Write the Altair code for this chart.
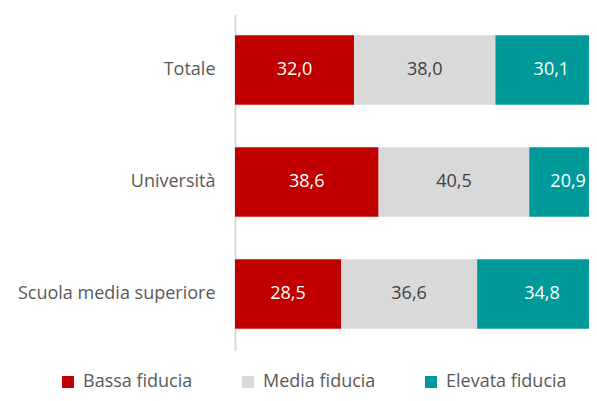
import altair as alt
import pandas as pd

categories = ["Totale", "Università", "Scuola media superiore"]
series = ["Bassa fiducia", "Media fiducia", "Elevata fiducia"]
bassa = [32.0, 38.6, 28.5]
media = [38.0, 40.5, 36.6]
elevata = [30.1, 20.9, 34.8]
colors = ["#C00000", "#D9D9D9", "#009999"]

rows = []
for i, c in enumerate(categories):
    for j, (s, vals) in enumerate(zip(series, [bassa, media, elevata])):
        v = vals[i]
        rows.append({"cat": c, "serie": s, "ord": j, "value": v,
                     "label": f"{v:.1f}".replace(".", ",")})
df = pd.DataFrame(rows)

FONT = "Open Sans"

base = alt.Chart(df).transform_stack(
    stack="value", groupby=["cat"], sort=[alt.SortField("ord")], as_=["x0", "x1"]
).transform_calculate(mid="(datum.x0 + datum.x1) / 2")

xscale = alt.Scale(domain=[0, 100], range=[0, 372])
yscale = alt.Scale(paddingInner=0.38, paddingOuter=0.19)

bars = base.mark_bar(clip=True).encode(
    x=alt.X("x0:Q", scale=xscale, axis=None),
    x2="x1:Q",
    y=alt.Y("cat:N", sort=categories, scale=yscale,
            axis=alt.Axis(title=None, ticks=False, domainColor="#D9D9D9", domainWidth=2,
                          labelPadding=20, labelFontSize=18, labelColor="#595959",
                          labelFont=FONT, labelLimit=0)),
    color=alt.Color("serie:N", sort=series, scale=alt.Scale(domain=series, range=colors),
                    legend=alt.Legend(title=None, orient="none", legendX=-176, legendY=359,
                                      direction="horizontal", columns=3, columnPadding=46,
                                      symbolType="square", symbolSize=144, symbolStrokeWidth=0,
                                      labelFontSize=18, labelColor="#595959", labelFont=FONT,
                                      padding=0, labelOffset=6, labelLimit=0)),
)

texts = base.mark_text(fontSize=18, font=FONT, clip=True).encode(
    x=alt.X("mid:Q", scale=xscale, axis=None),
    y=alt.Y("cat:N", sort=categories, scale=yscale),
    text="label:N",
    color=alt.condition(alt.datum.serie == "Media fiducia", alt.value("#404040"), alt.value("#FFFFFF")),
)

chart = alt.layer(bars, texts).properties(
    width=354, height=336,
    autosize=alt.AutoSizeParams(type="none"),
    padding={"left": 227, "top": 6, "right": 0, "bottom": 43},
).configure_view(stroke=None)

chart.save("out.html", embed_options={"renderer": "svg", "actions": False})
